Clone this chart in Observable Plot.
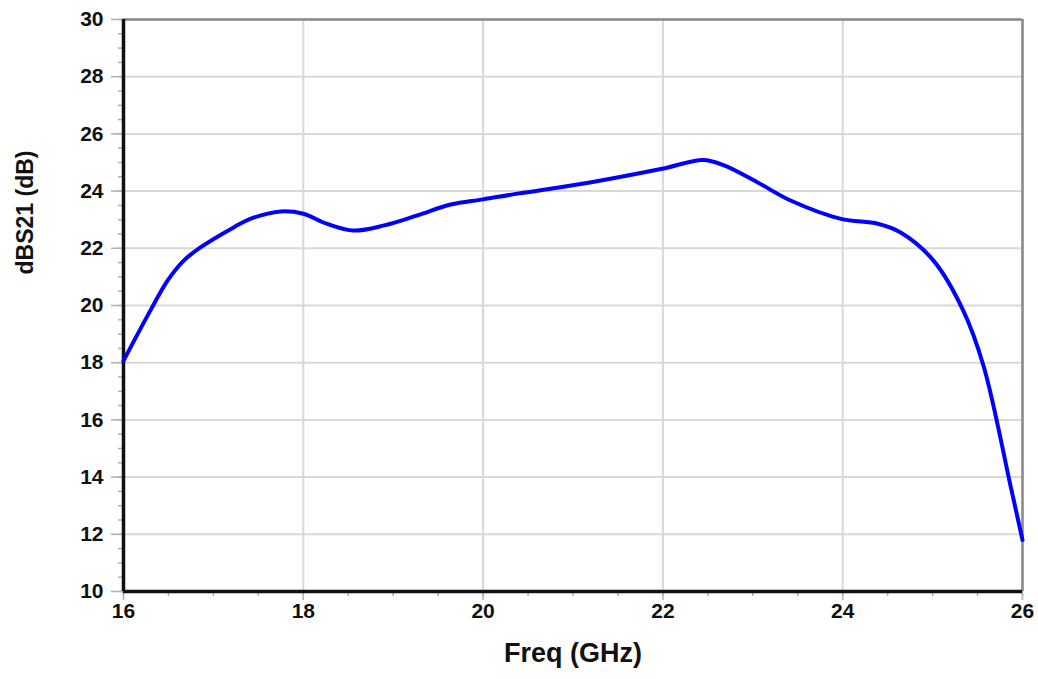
<!DOCTYPE html>
<html>
<head>
<meta charset="utf-8">
<script src="https://cdn.jsdelivr.net/npm/d3@7"></script>
<script src="https://cdn.jsdelivr.net/npm/@observablehq/plot@0.6"></script>
<style>
  html, body { margin: 0; padding: 0; background: #fff; }
  #chart svg { display: block; }
</style>
</head>
<body>
<div id="chart"></div>
<script>
const freq = [16.00, 16.30, 16.49, 16.67, 16.86, 17.23, 17.41, 17.75, 18.00, 18.26, 18.56, 18.90, 19.27, 19.64, 20.00, 20.40, 20.75, 21.31, 21.99, 22.45, 22.68, 23.05, 23.42, 23.98, 24.39, 24.64, 25.01, 25.34, 25.57, 25.87, 26.00];
const gain = [18.07, 19.83, 20.87, 21.57, 22.04, 22.74, 23.03, 23.29, 23.21, 22.86, 22.62, 22.80, 23.15, 23.53, 23.71, 23.92, 24.08, 24.37, 24.78, 25.09, 24.90, 24.31, 23.67, 23.03, 22.86, 22.56, 21.57, 19.83, 17.85, 13.65, 11.80];
const xTicks = [16, 18, 20, 22, 24, 26];
const yTicks = [10, 12, 14, 16, 18, 20, 22, 24, 26, 28, 30];
const xMinor = d3.range(16, 26.001, 0.5);
const yMinor = d3.range(10, 30.001, 0.5);
const xLabel = "Freq (GHz)";
const yLabel = "dBS21 (dB)";

const data = freq.map((f, i) => ({freq: f, gain: gain[i]}));
const font = "'Liberation Sans', Arial, sans-serif";

const chart = Plot.plot({
  width: 1038,
  height: 679,
  marginLeft: 123,
  marginRight: 16,
  marginTop: 19,
  marginBottom: 88,
  style: {fontFamily: font, background: "#fff", color: "#111"},
  x: {domain: [16, 26]},
  y: {domain: [10, 30]},
  marks: [
    Plot.gridX(xTicks, {stroke: "#d8d8d8", strokeOpacity: 1, strokeWidth: 2}),
    Plot.gridY(yTicks, {stroke: "#d8d8d8", strokeOpacity: 1, strokeWidth: 2}),
    // frame: grey top/right
    Plot.ruleY([30], {stroke: "#8a8a8a", strokeWidth: 2.5}),
    Plot.ruleX([26], {stroke: "#8a8a8a", strokeWidth: 2.5}),
    // minor ticks
    Plot.axisX(xMinor, {tickSize: 5, tickFormat: null, stroke: "#b0b0b0", strokeWidth: 1.5, text: null, label: null}),
    Plot.axisY(yMinor, {tickSize: 5, tickFormat: null, stroke: "#b0b0b0", strokeWidth: 1.5, text: null, label: null}),
    // major ticks and labels
    Plot.axisX(xTicks, {tickSize: 9, tickPadding: 3, stroke: "#b0b0b0", strokeWidth: 1.5, fontSize: 21, fontWeight: "bold", fill: "#111", label: null}),
    Plot.axisY(yTicks, {tickSize: 12, tickPadding: 8, stroke: "#b0b0b0", strokeWidth: 1.5, fontSize: 21, fontWeight: "bold", fill: "#111", label: null}),
    // black left/bottom axis lines
    Plot.ruleX([16], {stroke: "#111", strokeWidth: 3.5}),
    Plot.ruleY([10], {stroke: "#111", strokeWidth: 3.5}),
    Plot.line(data, {x: "freq", y: "gain", stroke: "#0000ff", strokeWidth: 4, curve: "catmull-rom"}),
    Plot.text([xLabel], {frameAnchor: "bottom", dy: 70, fontSize: 27, fontWeight: "bold", fill: "#111"}),
    Plot.text([yLabel], {frameAnchor: "left", dx: -98, dy: -31, rotate: -90, fontSize: 23, fontWeight: "bold", fill: "#111"})
  ]
});
document.getElementById("chart").appendChild(chart);
</script>
</body>
</html>
